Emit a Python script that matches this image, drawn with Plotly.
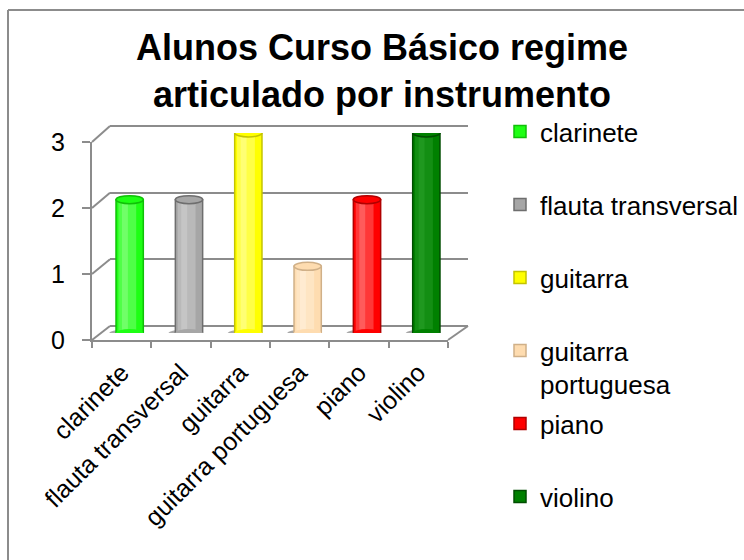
import plotly.graph_objects as go

# ---------------- data ----------------
categories = ["clarinete", "flauta transversal", "guitarra", "guitarra portuguesa", "piano", "violino"]
legend_names = ["clarinete", "flauta transversal", "guitarra", "guitarra<br>portuguesa", "piano", "violino"]
values = [2, 2, 3, 1, 2, 3]
y_ticks = [0, 1, 2, 3]
title_text = "Alunos Curso Básico regime<br>articulado por instrumento"

# ---------------- styles ----------------
bar_colors = ["#1eff14", "#a6a6a6", "#ffff00", "#fedcb0", "#ff0000", "#008000"]
edge_colors = ["#10c008", "#6e6e6e", "#c4c400", "#d0b088", "#b00000", "#004d00"]
light_colors = ["#8cff84", "#d0d0d0", "#ffff9a", "#fff0dc", "#ff7a7a", "#2aa02a"]
legend_text_y = [133, 206, 279, 352, 425, 498]   # pixel centre of first line
GRID = "#8c8c8c"
FONT = "Liberation Sans, Arial, Helvetica, sans-serif"

W, H = 744, 560
def px(x): return x / W
def py(y): return 1 - y / H

FRONT = dict(x0=92, x1=448, yb=340, yt=142)
BACK = dict(x0=110, x1=468, yb=326, yt=126)
BARS = dict(x0=100, x1=456, yb=333, yt=133)
vmax = max(y_ticks)
PAD = 0.02      # small range padding so the end grid lines are drawn
BAR_W = 0.46    # bar width in category units
CAP_H = 0.06    # half height of the elliptical cylinder caps (value units)

def ydomain(g, lo, hi):
    pix = lambda v: g["yb"] + (g["yt"] - g["yb"]) * v / vmax
    return [py(pix(lo)), py(pix(hi))]

fig = go.Figure()

# back wall (grid lines) subplot: xaxis / yaxis
fig.add_trace(go.Scatter(x=[0, 1], y=[0, vmax], mode="markers", marker=dict(opacity=0),
                         showlegend=False, hoverinfo="skip", xaxis="x", yaxis="y"))
# front axis subplot: xaxis2 / yaxis2
fig.add_trace(go.Scatter(x=categories, y=values, mode="markers", marker=dict(opacity=0),
                         showlegend=False, hoverinfo="skip", xaxis="x2", yaxis="y2"))

shapes = []
# cylinders: xaxis3 / yaxis3  (body, soft highlight, sharp highlight, caps)
for i, (cat, name, v) in enumerate(zip(categories, legend_names, values)):
    lg = "legend" if i == 0 else f"legend{i+1}"
    fig.add_trace(go.Bar(
        x=[cat], y=[v], name=name, width=BAR_W,
        marker=dict(color=bar_colors[i], line=dict(color=edge_colors[i], width=1.5)),
        xaxis="x3", yaxis="y3", legend=lg, hoverinfo="x+y",
    ))
    fig.add_trace(go.Bar(
        x=[cat], y=[v], width=0.30, offset=-0.19, showlegend=False,
        marker=dict(color=light_colors[i], opacity=0.45, line=dict(width=0)),
        xaxis="x3", yaxis="y3", hoverinfo="skip",
    ))
    fig.add_trace(go.Bar(
        x=[cat], y=[v], width=0.10, offset=-0.13, showlegend=False,
        marker=dict(color=light_colors[i], opacity=0.55, line=dict(width=0)),
        xaxis="x3", yaxis="y3", hoverinfo="skip",
    ))
    # floor shadow
    shapes.append(dict(type="circle", xref="x3", yref="y3", layer="below",
                       x0=i - BAR_W / 2 - 0.12, x1=i + BAR_W / 2 - 0.05, y0=-CAP_H * 1.2, y1=CAP_H * 0.9,
                       fillcolor="rgba(60,60,60,0.45)", line=dict(width=0)))
    # rounded bottom
    shapes.append(dict(type="circle", xref="x3", yref="y3", layer="above",
                       x0=i - BAR_W / 2, x1=i + BAR_W / 2, y0=-CAP_H, y1=CAP_H,
                       fillcolor=bar_colors[i], line=dict(width=0)))
    # top cap
    shapes.append(dict(type="circle", xref="x3", yref="y3", layer="above",
                       x0=i - BAR_W / 2, x1=i + BAR_W / 2, y0=v - CAP_H, y1=v + CAP_H,
                       fillcolor=bar_colors[i], line=dict(color=edge_colors[i], width=1.5)))

# outer chart frame
shapes.append(dict(type="line", xref="paper", yref="paper", x0=px(8), y0=py(10), x1=1.0, y1=py(10),
                   line=dict(color=GRID, width=2)))
shapes.append(dict(type="line", xref="paper", yref="paper", x0=px(8), y0=py(10), x1=px(8), y1=0.0,
                   line=dict(color=GRID, width=2)))
# side wall diagonals at each tick
for t in y_ticks:
    yf = FRONT["yb"] + (FRONT["yt"] - FRONT["yb"]) * t / vmax
    yk = BACK["yb"] + (BACK["yt"] - BACK["yb"]) * t / vmax
    shapes.append(dict(type="line", xref="paper", yref="paper", x0=px(FRONT["x0"]), y0=py(yf),
                       x1=px(BACK["x0"]), y1=py(yk), line=dict(color=GRID, width=2)))
# floor right edge
shapes.append(dict(type="line", xref="paper", yref="paper", x0=px(FRONT["x1"]), y0=py(FRONT["yb"]),
                   x1=px(BACK["x1"]), y1=py(BACK["yb"]), line=dict(color=GRID, width=2)))

legends = {}
for i in range(len(categories)):
    key = "legend" if i == 0 else f"legend{i+1}"
    legends[key] = dict(
        x=px(500), y=py(legend_text_y[i] - 25), xanchor="left", yanchor="top",
        bgcolor="rgba(0,0,0,0)", borderwidth=0, valign="top",
        font=dict(family=FONT, size=26, color="black"),
        itemclick=False, itemdoubleclick=False,
    )

fig.update_layout(
    template="none",
    width=W, height=H, autosize=False,
    margin=dict(l=0, r=0, t=0, b=0, pad=0, autoexpand=False),
    paper_bgcolor="white", plot_bgcolor="rgba(0,0,0,0)",
    barmode="overlay",
    font=dict(family=FONT, size=25, color="black"),
    title=dict(text=f"<b>{title_text}</b>", x=px(382), xanchor="center",
               y=py(60), yanchor="top", xref="paper", yref="paper",
               font=dict(family=FONT, size=36, color="black")),
    xaxis=dict(domain=[px(BACK["x0"]), px(BACK["x1"])], range=[0, 1], visible=False, anchor="y",
               automargin=False),
    yaxis=dict(domain=ydomain(BACK, -PAD, vmax + PAD), range=[-PAD, vmax + PAD], anchor="x",
               tickvals=y_ticks, showticklabels=False, ticks="", automargin=False,
               showgrid=True, gridcolor=GRID, gridwidth=2,
               zeroline=False, showline=False),
    xaxis2=dict(domain=[px(FRONT["x0"]), px(FRONT["x1"])], type="category", range=[-0.5, len(categories) - 0.5],
                anchor="y2", tickson="boundaries", ticks="outside", ticklen=6, tickwidth=2, tickcolor=GRID,
                showline=True, linecolor=GRID, linewidth=2, showgrid=False, tickangle=-45, automargin=False,
                ticklabelstandoff=6, tickfont=dict(family=FONT, size=25, color="black")),
    yaxis2=dict(domain=[py(FRONT["yb"]), py(FRONT["yt"])], range=[0, vmax], anchor="x2",
                tickvals=y_ticks, ticks="outside", ticklen=8, tickwidth=2, tickcolor=GRID,
                showline=True, linecolor=GRID, linewidth=2, showgrid=False, zeroline=False,
                automargin=False, ticklabelstandoff=12, tickfont=dict(family=FONT, size=25, color="black")),
    xaxis3=dict(domain=[px(BARS["x0"]), px(BARS["x1"])], type="category", range=[-0.5, len(categories) - 0.5],
                anchor="y3", visible=False, categoryorder="array", categoryarray=categories, automargin=False),
    yaxis3=dict(domain=[py(BARS["yb"]), py(BARS["yt"])], range=[0, vmax], anchor="x3", visible=False,
                automargin=False),
    shapes=shapes,
    **legends,
)

fig.write_html("out.html", config={"displayModeBar": False},
               post_script="document.body.style.margin='0';document.body.style.overflow='hidden';")
